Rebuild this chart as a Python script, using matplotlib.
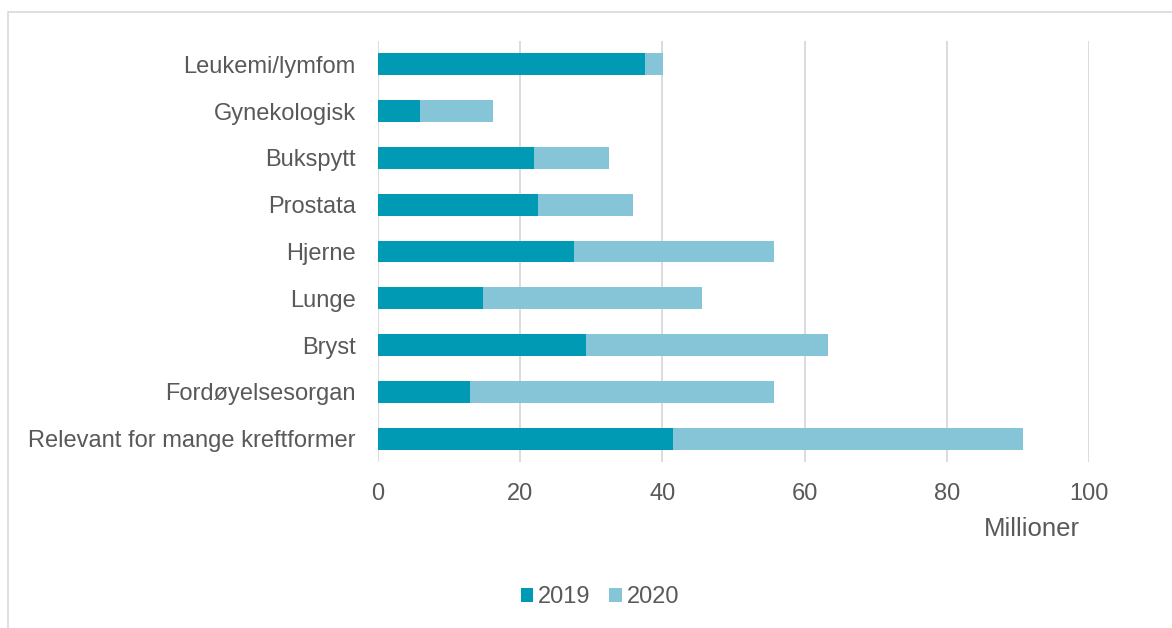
import matplotlib
matplotlib.use("Agg")
import matplotlib.pyplot as plt
from matplotlib.patches import Rectangle, Patch

categories = ["Leukemi/lymfom", "Gynekologisk", "Bukspytt", "Prostata", "Hjerne",
              "Lunge", "Bryst", "Fordøyelsesorgan", "Relevant for mange kreftformer"]
v2019 = [37.6, 5.9, 21.9, 22.5, 27.6, 14.8, 29.3, 12.9, 41.5]
v2020 = [2.5, 10.3, 10.6, 13.4, 28.1, 30.8, 34.0, 42.8, 49.2]
xticks = [0, 20, 40, 60, 80, 100]

c2019 = "#009AB4"
c2020 = "#86C5D7"
txt = "#595959"

plt.rcParams['font.family'] = ['Liberation Sans', 'DejaVu Sans']

W, H = 1172, 628
fig = plt.figure(figsize=(W/100, H/100), dpi=100)
fig.patch.set_facecolor("white")

# outer frame (left and top visible)
fig.add_artist(Rectangle((7.5/W, -0.1), 1.2, (H - 11.5)/H + 0.1, transform=fig.transFigure,
                         fill=False, edgecolor="#D9D9D9", linewidth=1.2))

ax = fig.add_axes([378/W, 1 - 462/H, (1089-378)/W, (462-41)/H])
ypos = list(range(len(categories)))
ax.barh(ypos, v2019, height=0.47, color=c2019, label="2019", zorder=3)
ax.barh(ypos, v2020, left=v2019, height=0.47, color=c2020, label="2020", zorder=3)

ax.set_xlim(0, 100)
ax.set_ylim(len(categories) - 0.5, -0.5)
ax.set_yticks(ypos)
ax.set_yticklabels(categories, fontsize=17, color=txt)
ax.set_xticks(xticks)
ax.set_xticklabels([str(x) for x in xticks], fontsize=17, color=txt)
ax.tick_params(axis='both', length=0)
ax.tick_params(axis='y', pad=16)
ax.tick_params(axis='x', pad=15)
ax.grid(axis='x', color="#D9D9D9", linewidth=1.3, zorder=0)
for s in ax.spines.values():
    s.set_visible(False)

fig.text(1080/W, 1 - 529/H, "Millioner", ha="right", va="center", fontsize=18.5, color=txt)

handles = [Patch(facecolor=c2019), Patch(facecolor=c2020)]
fig.legend(handles, ["2019", "2020"], loc="center", bbox_to_anchor=(600/W, 1 - 597/H),
           ncol=2, frameon=False, fontsize=17, labelcolor=txt,
           handlelength=0.52, handleheight=0.52, handletextpad=0.2, columnspacing=0.8)

fig.savefig("out.png", dpi=100)
